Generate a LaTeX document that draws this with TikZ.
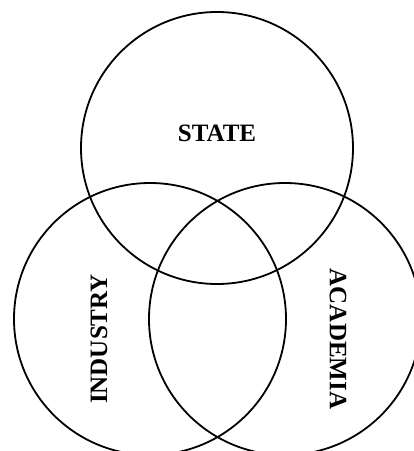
\documentclass[tikz,border=0pt]{standalone}
\usepackage{fontspec}
\setmainfont{Liberation Serif}
\begin{document}
\begin{tikzpicture}[x=1pt, y=1pt,
  sector/.style={draw, circle, line width=1.8pt, minimum size=272pt, inner sep=0pt},
  sectorlabel/.style={font=\fontsize{25}{30}\selectfont\bfseries, inner sep=0pt}]
\useasboundingbox (0,0) rectangle (414,451);
\clip (0,0) rectangle (414,451);
\node[sector] (S) at (217,303) {};
\node[sector] (I) at (150,132) {};
\node[sector] (A) at (285,132) {};
\node[sectorlabel] (Slab) at (217,318) {STATE};
\node[sectorlabel, rotate=90] (Ilab) at (99,112) {INDUSTRY};
\node[sectorlabel, rotate=-90] (Alab) at (338,112) {ACADEMIA};
\end{tikzpicture}
\end{document}
